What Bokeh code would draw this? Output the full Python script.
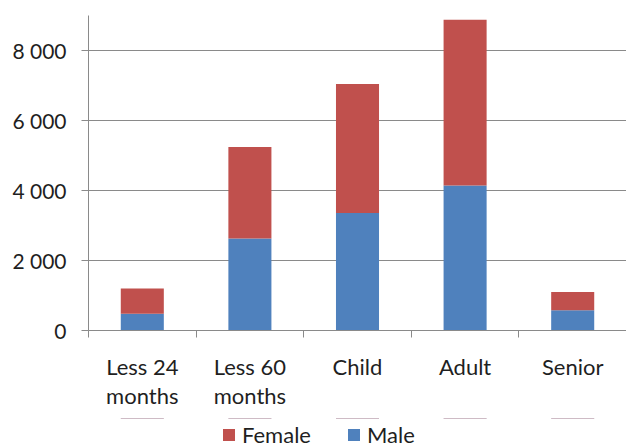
from bokeh.plotting import figure
from bokeh.layouts import column
from bokeh.models import Range1d, LinearAxis, FixedTicker, Legend, LegendItem, ColumnDataSource
from bokeh.embed import file_html
from bokeh.resources import INLINE

categories = ["Less 24\nmonths", "Less 60\nmonths", "Child", "Adult", "Senior"]
male = [480, 2630, 3360, 4140, 580]
female = [720, 2610, 3680, 4740, 520]
y_ticks = [0, 2000, 4000, 6000, 8000]

FONT = "Lato"
TXT = "#1f1f1f"
GRID = "#8a8a8a"
RED = "#C0504D"
BLUE = "#4F81BD"

n = len(categories)
centers = [i + 0.5 for i in range(n)]

p = figure(x_range=Range1d(0, n), y_range=Range1d(0, 9000),
           width=626, height=418, output_backend="svg", toolbar_location=None,
           x_axis_location=None, min_border_left=88, min_border_top=15,
           min_border_right=0, min_border_bottom=88)
p.outline_line_color = None
p.xgrid.grid_line_color = None
p.ygrid.grid_line_color = GRID
p.ygrid.ticker = FixedTicker(ticks=y_ticks)

src = ColumnDataSource(dict(x=centers, Male=male, Female=female))
rs = p.vbar_stack(["Male", "Female"], x="x", width=0.4, color=[BLUE, RED],
                  line_color=None, source=src)

yax = p.yaxis[0]
yax.ticker = FixedTicker(ticks=y_ticks)
yax.major_label_overrides = {v: f"{v:,}".replace(",", " ") for v in y_ticks}
yax.major_tick_out = 7
yax.major_tick_in = 0
yax.minor_tick_line_color = None
yax.axis_line_color = GRID
yax.major_tick_line_color = GRID
yax.major_label_text_font = FONT
yax.major_label_text_font_size = "21px"
yax.major_label_text_color = TXT
yax.major_label_standoff = 15

# boundary ticks axis
bax = LinearAxis(ticker=FixedTicker(ticks=list(range(n + 1))))
bax.major_label_text_font_size = "1px"
bax.major_label_text_alpha = 0
bax.major_label_standoff = 0
bax.major_tick_out = 7
bax.major_tick_in = 0
bax.minor_tick_line_color = None
bax.axis_line_color = GRID
bax.major_tick_line_color = GRID
p.add_layout(bax, "below")

cax = LinearAxis(ticker=FixedTicker(ticks=centers))
cax.major_label_overrides = {c: lab for c, lab in zip(centers, categories)}
cax.axis_line_color = None
cax.major_tick_line_color = None
cax.minor_tick_line_color = None
cax.major_label_text_font = FONT
cax.major_label_text_font_size = "22px"
cax.major_label_text_line_height = 1.1
cax.major_label_text_color = TXT
cax.major_label_standoff = 9
p.add_layout(cax, "below")

# legend strip (same data, drawn outside its visible range so only the legend shows)
lg = figure(x_range=Range1d(0, n), y_range=Range1d(-2, -1), width=626, height=30,
            output_backend="svg", toolbar_location=None, min_border=0,
            x_axis_location=None, y_axis_location=None)
lg.outline_line_color = None
lg.grid.visible = False
lrs = lg.vbar_stack(["Male", "Female"], x="x", width=0.4, color=[BLUE, RED],
                    line_color=None, source=src)

legend = Legend(items=[LegendItem(label="Female", renderers=[lrs[1]]),
                       LegendItem(label="Male", renderers=[lrs[0]])],
                orientation="horizontal", location=(133, 0),
                label_text_font=FONT, label_text_font_size="22px",
                label_text_color=TXT, glyph_width=15, glyph_height=15,
                spacing=35, label_standoff=6, border_line_color=None,
                padding=0, margin=0, background_fill_alpha=0)
lg.add_layout(legend, "center")

layout = column(p, lg, spacing=0)
open("out.html", "w").write(file_html(layout, INLINE))
